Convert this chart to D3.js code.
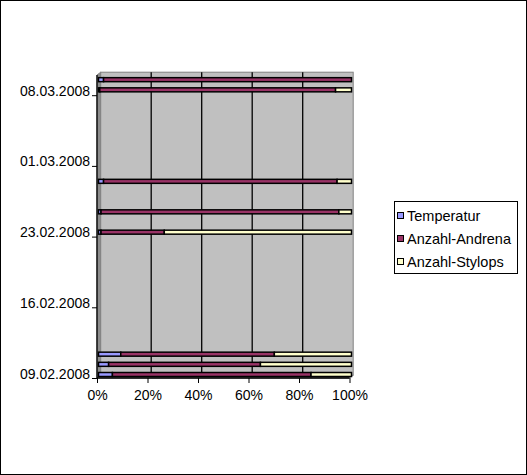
<!DOCTYPE html>
<html>
<head>
<meta charset="utf-8">
<script src="https://cdn.jsdelivr.net/npm/d3@7"></script>
<style>
  body { margin: 0; background: #fff; }
  svg { display: block; font-family: "Liberation Sans", Arial, sans-serif; }
</style>
</head>
<body>
<div id="chart"></div>
<script>
/* DATA */
const dates = ["09.02.2008", "10.02.2008", "11.02.2008", "23.02.2008",
  "25.02.2008", "28.02.2008", "08.03.2008", "09.03.2008"];
const temperatur = [5.5, 4, 8.8, 1, 1, 2, 0.5, 2];
const andrena = [78.5, 60, 60.7, 25, 94, 92.3, 93.2, 98];
const stylops = [16, 36, 30.5, 74, 5, 5.7, 6.3, 0];
const seriesNames = ["Temperatur", "Anzahl-Andrena", "Anzahl-Stylops"];
const seriesColors = ["#9999FF", "#993366", "#FFFFCC"];
const dateTicks = ["09.02.2008", "16.02.2008", "23.02.2008", "01.03.2008", "08.03.2008"];
const pctTicks = [0, 0.2, 0.4, 0.6, 0.8, 1];

/* CONSTANTS */
const width = 527, height = 475;
const depth = { dx: 3.7, dy: -2.8 };
const parse = d3.timeParse("%d.%m.%Y");
const fmt = d3.timeFormat("%d.%m.%Y");
const yMin = parse("09.02.2008"), yMax = parse("10.03.2008");

// front plane scales
const xScale = d3.scaleLinear().domain([0, 1]).range([97, 349.5]);
const yScale = d3.scaleTime().domain([yMin, yMax]).range([378, 75]);
// bars sit a little deeper in the box
const xBar = d3.scaleLinear().domain([0, 1]).range([98.5, 351.5]);
const yBar = d3.scaleTime().domain([yMin, yMax]).range([374.5, 69.5]);

const rows = dates.map((d, i) => ({
  date: parse(d),
  Temperatur: temperatur[i],
  "Anzahl-Andrena": andrena[i],
  "Anzahl-Stylops": stylops[i]
}));

const stack = d3.stack().keys(seriesNames).offset(d3.stackOffsetExpand);
const stacked = stack(rows);

const svg = d3.select("#chart").append("svg")
  .attr("width", width).attr("height", height);

svg.append("rect")
  .attr("x", 0.5).attr("y", 0.5)
  .attr("width", width - 1).attr("height", height - 1)
  .attr("fill", "#fff").attr("stroke", "#000");

/* WALLS */
const x0 = xScale(0), x1 = xScale(1), yb = yScale(yMin), yt = yScale(yMax);
const bx0 = x0 + depth.dx, bx1 = x1 + depth.dx, byb = yb + depth.dy, byt = yt + depth.dy;

// side wall
svg.append("polygon")
  .attr("points", [[x0, yt], [bx0, byt], [bx0, byb], [x0, yb]].join(" "))
  .attr("fill", "#8C8C8C").attr("stroke", "#808080");
// floor
svg.append("polygon")
  .attr("points", [[x0, yb], [bx0, byb], [bx1, byb], [x1, yb]].join(" "))
  .attr("fill", "#8C8C8C").attr("stroke", "#808080");
// back wall
svg.append("rect")
  .attr("x", bx0).attr("y", byt)
  .attr("width", bx1 - bx0).attr("height", byb - byt)
  .attr("fill", "#C0C0C0").attr("stroke", "#808080");

// gridlines
svg.append("g").selectAll("line")
  .data(pctTicks.slice(1, -1))
  .join("line")
  .attr("x1", d => xScale(d) + depth.dx).attr("x2", d => xScale(d) + depth.dx)
  .attr("y1", byt).attr("y2", byb)
  .attr("stroke", "#000").attr("stroke-width", 1.3);

/* BARS */
const barH = 4;
svg.append("g").selectAll("g")
  .data(stacked)
  .join("g")
  .attr("fill", (d, i) => seriesColors[i])
  .selectAll("rect")
  .data(d => d)
  .join("rect")
  .attr("x", d => xBar(d[0]))
  .attr("width", d => Math.max(0, xBar(d[1]) - xBar(d[0])))
  .attr("y", d => yBar(d.data.date) - barH / 2)
  .attr("height", barH)
  .attr("stroke", "#000").attr("stroke-width", 1.5);

/* AXES */
const yAxis = d3.axisLeft(yScale)
  .tickValues(dateTicks.map(parse))
  .tickFormat(fmt)
  .tickSize(5).tickPadding(2);
const gy = svg.append("g")
  .attr("transform", `translate(${x0},0)`)
  .call(yAxis);
gy.select(".domain").attr("stroke", "#000").attr("stroke-width", 1.3)
  .attr("d", `M0,${yt}V${yb}`);
gy.selectAll(".tick text")
  .attr("dy", "0").attr("font-size", 14).attr("fill", "#000");

const xAxis = d3.axisBottom(xScale)
  .tickValues(pctTicks)
  .tickFormat(d3.format(".0%"))
  .tickSize(5).tickPadding(7);
const gx = svg.append("g")
  .attr("transform", `translate(0,${yb})`)
  .call(xAxis);
gx.select(".domain").attr("stroke", "#000").attr("stroke-width", 1.3)
  .attr("d", `M${x0},0H${x1}`);
gx.selectAll(".tick text")
  .attr("font-size", 14).attr("fill", "#000");

/* LEGEND */
const legend = svg.append("g");
legend.append("rect")
  .attr("x", 394.5).attr("y", 201.5)
  .attr("width", 123).attr("height", 72)
  .attr("fill", "#fff").attr("stroke", "#000");
const item = legend.selectAll(".item")
  .data(seriesNames)
  .join("g")
  .attr("class", "item")
  .attr("transform", (d, i) => `translate(397,${212 + i * 23})`);
item.append("rect")
  .attr("x", 0.5).attr("y", 0.5)
  .attr("width", 6).attr("height", 6)
  .attr("fill", (d, i) => seriesColors[i])
  .attr("stroke", "#000");
item.append("text")
  .attr("x", 10).attr("y", 8.5)
  .attr("font-size", 14.5)
  .text(d => d);
</script>
</body>
</html>
